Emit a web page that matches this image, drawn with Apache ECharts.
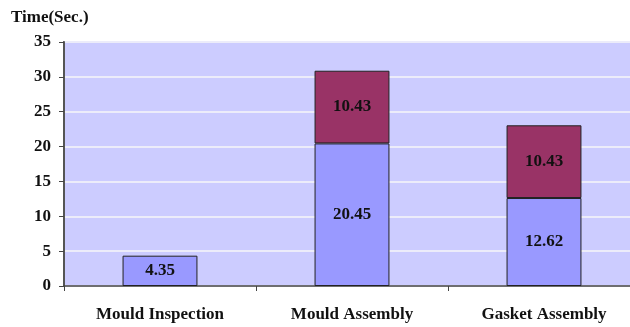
<!DOCTYPE html>
<html><head><meta charset="utf-8">
<script src="https://cdn.jsdelivr.net/npm/echarts@6/dist/echarts.min.js"></script>
<style>html,body{margin:0;padding:0;background:#fff;overflow:hidden}#c{width:630px;height:327px}</style>
</head><body><div id="c"></div>
<script>
const categories = ['Mould Inspection', 'Mould Assembly', 'Gasket Assembly'];
const baseTimes = [4.35, 20.45, 12.62];
const addedTimes = [null, 10.43, 10.43];
const yTicks = {min: 0, max: 35, interval: 5};
const yTitle = 'Time(Sec.)';

const font = '"Liberation Serif", "Times New Roman", serif';
const chart = echarts.init(document.getElementById('c'), null, {renderer: 'canvas', width: 650, height: 327});
chart.setOption({
  animation: false,
  graphic: [{type: 'text', left: 11, top: 9, style: {text: yTitle, font: 'bold 17px ' + font, fill: '#111'}}],
  grid: {left: 64, width: 576, top: 42, bottom: 41, show: true, backgroundColor: '#ccccff', borderColor: '#999', borderWidth: 2},
  xAxis: {
    type: 'category', data: categories,
    axisLine: {lineStyle: {color: '#444', width: 1.5}},
    axisTick: {show: true, length: 5, lineStyle: {color: '#444'}},
    axisLabel: {color: '#111', fontFamily: font, fontWeight: 'bold', fontSize: 17, margin: 20}
  },
  yAxis: {
    type: 'value', min: yTicks.min, max: yTicks.max, interval: yTicks.interval,
    axisLine: {show: true, lineStyle: {color: '#555', width: 2}},
    axisTick: {show: true, length: 5, lineStyle: {color: '#444'}},
    axisLabel: {color: '#111', fontFamily: font, fontWeight: 'bold', fontSize: 17, margin: 13},
    splitLine: {lineStyle: {color: '#ececfa', width: 2}}
  },
  series: [
    {type: 'bar', stack: 's', data: baseTimes, barWidth: '39%',
     itemStyle: {color: '#9999ff', borderColor: '#222', borderWidth: 1},
     label: {show: true, position: 'inside', color: '#111', fontFamily: font, fontWeight: 'bold', fontSize: 17}},
    {type: 'bar', stack: 's', data: addedTimes, barWidth: '39%',
     itemStyle: {color: '#993366', borderColor: '#222', borderWidth: 1},
     label: {show: true, position: 'inside', color: '#111', fontFamily: font, fontWeight: 'bold', fontSize: 17}}
  ]
});
</script></body></html>
